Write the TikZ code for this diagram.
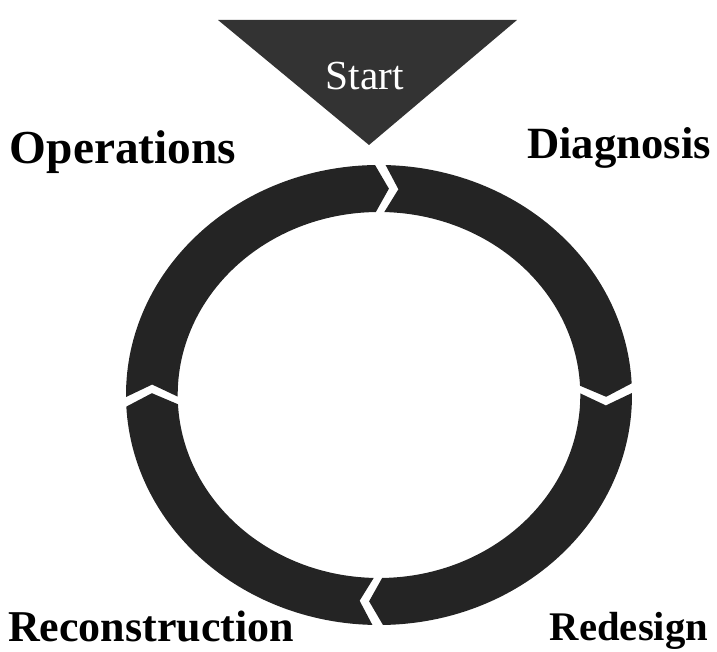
\documentclass[tikz,border=0pt]{standalone}
\usepackage{fontspec}
\setmainfont{Liberation Serif}
\begin{document}
\begin{tikzpicture}[x=0.75pt,y=0.75pt,line join=miter,
  ring/.style={fill=black!86},
  stage/.style={font=\bfseries,anchor=base,inner sep=0pt}]
 \useasboundingbox (0,0) rectangle (717,652);
 % start marker
 \fill[black!80] (218,632) -- (517,632) -- (369,507) -- cycle;
 \node[white,font=\fontsize{31}{32}\selectfont,inner sep=0pt] (start) at (365,576) {Start};
 % ring, four segments, clockwise
 \begin{scope}[shift={(379,257)},xscale=1.1]
  \foreach \a/\b in {88/0,180/88,268/180,360/268}
   \fill[ring] ({\a+0.5}:230)
     arc[start angle={\a+0.5},end angle={\b+2.9},radius=230]
     -- ({\b-0.5}:206.5) -- ({\b+2.9}:183)
     arc[start angle={\b+2.9},end angle={\a+0.5},radius=183]
     -- ({\a-2.9}:206.5) -- cycle;
 \end{scope}
 \node[stage,font=\fontsize{35.5}{38}\selectfont\bfseries] (operations) at (123,488) {Operations};
 \node[stage,font=\fontsize{33.5}{36}\selectfont\bfseries] (diagnosis) at (619,493) {Diagnosis};
 \node[stage,font=\fontsize{33}{36}\selectfont\bfseries] (reconstruction) at (151,10) {Reconstruction};
 \node[stage,font=\fontsize{30.5}{33}\selectfont\bfseries] (redesign) at (629,11) {Redesign};
\end{tikzpicture}
\end{document}
